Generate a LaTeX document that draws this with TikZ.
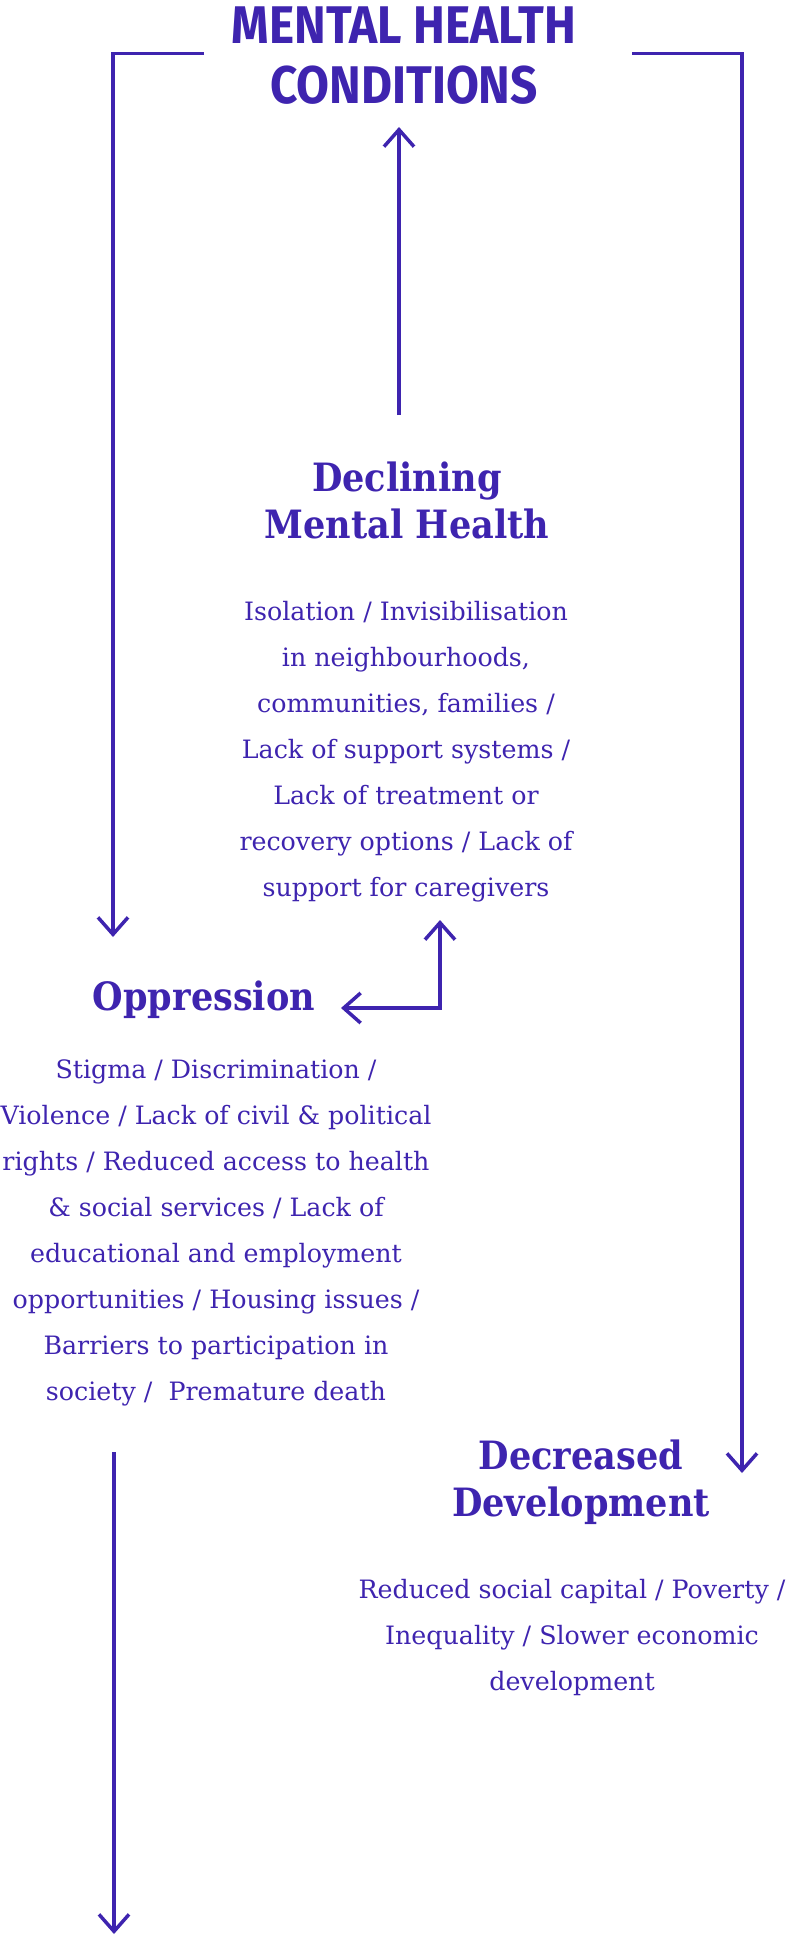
\documentclass[tikz,border=0pt]{standalone}
\usepackage{fontspec}
\usetikzlibrary{arrows.meta}
\definecolor{ink}{RGB}{62,36,175}
\newfontfamily\titlefont[FakeStretch=0.9]{Fira Sans}
\newfontfamily\slabfont{DejaVu Serif}
\newfontfamily\headfont[FakeStretch=0.9]{DejaVu Serif}

\begin{document}
\begin{tikzpicture}[x=1pt,y=1pt,>={Straight Barb[length=17pt,width=30pt]}]
\tikzstyle{every node}+=[inner sep=0pt,text=ink,anchor=base]
\tikzstyle{title}=[font=\titlefont\bfseries\fontsize{53}{60}\selectfont,align=center]
\tikzstyle{head}=[font=\headfont\bfseries\fontsize{39}{47}\selectfont,align=center]
\tikzstyle{body}=[font=\slabfont\fontsize{25.3}{46}\selectfont,align=center]
\tikzstyle{link}=[draw=ink,line width=3.5pt]
\useasboundingbox (0,0) rectangle (799,-1937);
% top (base = last line)
\node [title] (mhc) at (404,-104) {MENTAL HEALTH\\CONDITIONS};
% declining mental health
\node [head] (dmh) at (407,-538) {Declining\\Mental Health};
\node [body] (dmhtxt) at (406,-896.7) {Isolation / Invisibilisation\\in neighbourhoods,\\communities, families /\\Lack of support systems /\\Lack of treatment or\\recovery options / Lack of\\support for caregivers};
% oppression
\node [head] (opp) at (204,-1010) {Oppression};
\node [body] (opptxt) at (216,-1400) {Stigma / Discrimination /\\Violence / Lack of civil \& political\\rights / Reduced access to health\\\& social services / Lack of\\educational and employment\\opportunities / Housing issues /\\Barriers to participation in\\society / \ Premature death};
% decreased development
\node [head] (dev) at (581,-1516) {Decreased\\Development};
\node [body] (devtxt) at (572,-1690) {Reduced social capital / Poverty /\\Inequality / Slower economic\\development};
% arrow ends
\coordinate (lft) at (204,-53.5);
\coordinate (rgt) at (632,-53.5);
\coordinate (oppin) at (113,-937);
\coordinate (devin) at (742,-1473);
\coordinate (upfoot) at (399,-415);
\coordinate (uptip) at (399,-127);
\coordinate (elbowa) at (341,-1008);
\coordinate (elbowb) at (440,-920);
\coordinate (outtop) at (114,-1452);
\coordinate (outtip) at (114,-1934);
\draw [link,->] (upfoot) -- (uptip);
\draw [link,->] (lft) -| (oppin);
\draw [link,->] (rgt) -| (devin);
\draw [link,<->] (elbowa) -| (elbowb);
\draw [link,->] (outtop) -- (outtip);
\end{tikzpicture}
\end{document}
